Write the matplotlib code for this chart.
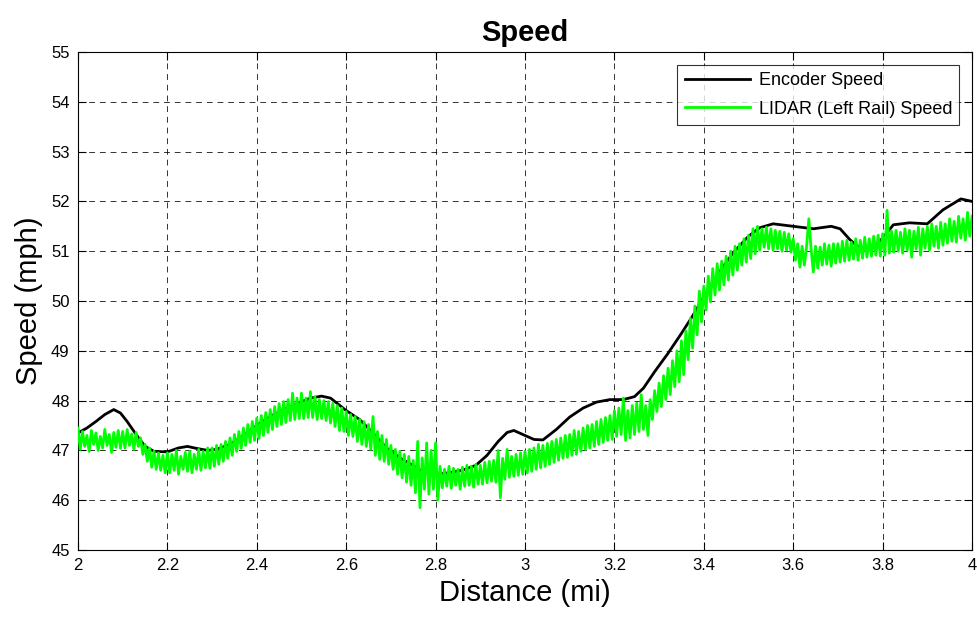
import matplotlib
matplotlib.use("Agg")
import matplotlib.pyplot as plt
import numpy as np

plt.rcParams['font.family'] = ['Liberation Sans', 'DejaVu Sans']

# Encoder speed trace (distance in mi, speed in mph)
encoder_dist = [
    2.000, 2.020, 2.040, 2.060, 2.080, 2.095, 2.110, 2.130, 2.150, 2.170,
    2.200, 2.225, 2.245, 2.265, 2.290, 2.310, 2.340, 2.370, 2.400, 2.430,
    2.460, 2.490, 2.520, 2.545, 2.565, 2.600, 2.630, 2.660, 2.690, 2.720,
    2.745, 2.770, 2.800, 2.830, 2.860, 2.890, 2.915, 2.940, 2.960, 2.975,
    2.995, 3.020, 3.040, 3.070, 3.100, 3.130, 3.160, 3.190, 3.220, 3.245,
    3.265, 3.290, 3.320, 3.350, 3.375, 3.400, 3.430, 3.465, 3.500, 3.525,
    3.555, 3.600, 3.645, 3.685, 3.705, 3.727, 3.750, 3.775, 3.800, 3.824,
    3.860, 3.900, 3.935, 3.975, 4.000,
]
encoder_speed = [
    47.35, 47.45, 47.58, 47.72, 47.82, 47.75, 47.58, 47.32, 47.08, 46.98,
    46.97, 47.05, 47.08, 47.04, 47.00, 47.02, 47.12, 47.30, 47.50, 47.68,
    47.82, 47.94, 48.05, 48.09, 48.05, 47.80, 47.62, 47.35, 47.05, 46.85,
    46.72, 46.58, 46.52, 46.55, 46.60, 46.70, 46.90, 47.18, 47.36, 47.40,
    47.32, 47.22, 47.21, 47.42, 47.67, 47.85, 47.97, 48.02, 48.02, 48.08,
    48.25, 48.58, 48.95, 49.35, 49.70, 50.08, 50.52, 50.96, 51.30, 51.47,
    51.55, 51.50, 51.45, 51.50, 51.45, 51.23, 51.05, 51.05, 51.26, 51.53,
    51.57, 51.55, 51.83, 52.05, 52.00,
]

# LIDAR (left rail) speed, sampled every 0.005 mi from 2.0 to 4.0
lidar_start, lidar_step = 2.0, 0.005
lidar_speed = [
    # 2.0 - 2.1
    47.45, 47.02, 47.38, 47.08, 47.30, 46.98, 47.40, 47.12, 47.35, 47.00,
    47.28, 47.05, 47.42, 47.10, 47.32, 46.96, 47.36, 47.06, 47.40, 47.04,
    # 2.1 - 2.2
    47.38, 47.05, 47.42, 47.10, 47.33, 47.02, 47.36, 47.08, 47.25, 46.92,
    47.12, 46.78, 47.05, 46.66, 46.98, 46.62, 46.95, 46.60, 46.90, 46.55,
    # 2.2 - 2.3
    46.95, 46.55, 46.92, 46.60, 47.00, 46.52, 46.88, 46.62, 46.96, 46.58,
    46.98, 46.55, 46.92, 46.62, 47.02, 46.60, 46.98, 46.65, 47.05, 46.64,
    # 2.3 - 2.4
    47.05, 46.68, 47.10, 46.72, 47.12, 46.78, 47.18, 46.84, 47.25, 46.90,
    47.32, 46.98, 47.38, 47.04, 47.45, 47.10, 47.52, 47.16, 47.58, 47.20,
    # 2.4 - 2.5
    47.65, 47.24, 47.70, 47.30, 47.76, 47.36, 47.82, 47.42, 47.88, 47.48,
    47.94, 47.52, 47.98, 47.56, 48.02, 47.60, 48.15, 47.62, 48.05, 47.64,
    # 2.5 - 2.6
    48.15, 47.64, 48.05, 47.66, 48.18, 47.66, 48.08, 47.62, 48.02, 47.64,
    48.00, 47.60, 47.98, 47.55, 47.95, 47.48, 47.90, 47.40, 47.85, 47.38,
    # 2.6 - 2.7
    47.78, 47.30, 47.72, 47.28, 47.68, 47.18, 47.62, 47.12, 47.58, 47.08,
    47.52, 47.02, 47.68, 46.90, 47.38, 46.82, 47.30, 46.78, 47.22, 46.72,
    # 2.7 - 2.8
    47.10, 46.62, 47.02, 46.52, 46.98, 46.45, 46.92, 46.36, 46.88, 46.30,
    46.80, 46.15, 47.18, 45.85, 46.85, 46.22, 47.15, 46.12, 47.00, 46.22,
    # 2.8 - 2.9
    47.15, 46.00, 46.68, 46.25, 46.62, 46.28, 46.68, 46.24, 46.64, 46.30,
    46.62, 46.22, 46.66, 46.28, 46.70, 46.30, 46.68, 46.26, 46.72, 46.32,
    # 2.9 - 3.0
    46.70, 46.32, 46.76, 46.35, 46.78, 46.38, 46.80, 46.36, 47.00, 46.05,
    46.84, 46.42, 47.02, 46.46, 46.88, 46.48, 46.92, 46.50, 46.95, 46.52,
    # 3.0 - 3.1
    46.98, 46.55, 47.02, 46.58, 47.05, 46.62, 47.12, 46.65, 47.10, 46.68,
    47.14, 46.72, 47.18, 46.76, 47.22, 46.80, 47.25, 46.84, 47.30, 46.86,
    # 3.1 - 3.2
    47.32, 46.90, 47.40, 46.92, 47.38, 46.98, 47.45, 47.02, 47.50, 47.05,
    47.52, 47.08, 47.58, 47.12, 47.62, 47.16, 47.66, 47.20, 47.70, 47.22,
    # 3.2 - 3.3
    47.80, 47.28, 47.85, 47.32, 48.05, 47.20, 47.80, 47.25, 47.90, 47.32,
    47.95, 47.38, 48.12, 47.42, 47.90, 47.30, 48.02, 47.62, 48.20, 47.78,
    # 3.3 - 3.4
    48.35, 47.88, 48.50, 48.02, 48.65, 48.12, 48.80, 48.28, 49.00, 48.38,
    49.20, 48.52, 49.40, 48.82, 49.65, 49.05, 49.90, 49.32, 50.20, 49.58,
    # 3.4 - 3.5
    50.30, 49.82, 50.50, 49.98, 50.65, 50.12, 50.75, 50.22, 50.80, 50.32,
    50.90, 50.42, 51.00, 50.52, 51.10, 50.62, 51.15, 50.72, 51.25, 50.78,
    # 3.5 - 3.6
    51.32, 50.85, 51.45, 50.95, 51.50, 51.02, 51.45, 51.08, 51.48, 51.05,
    51.45, 51.02, 51.42, 51.05, 51.40, 51.00, 51.38, 51.02, 51.35, 50.98,
    # 3.6 - 3.7
    51.25, 50.82, 51.15, 50.68, 51.10, 50.72, 51.10, 51.65, 51.05, 50.58,
    51.10, 50.66, 51.08, 50.72, 51.15, 50.74, 51.12, 50.70, 51.15, 50.76,
    # 3.7 - 3.8
    51.15, 50.78, 51.20, 50.80, 51.22, 50.82, 51.18, 50.84, 51.25, 50.82,
    51.22, 50.86, 51.28, 50.88, 51.25, 50.90, 51.30, 50.92, 51.32, 50.90,
    # 3.8 - 3.9
    51.35, 50.92, 51.82, 50.96, 51.40, 50.98, 51.42, 51.00, 51.38, 50.96,
    51.45, 51.02, 51.42, 50.88, 51.40, 51.04, 51.48, 50.92, 51.45, 51.06,
    # 3.9 - 4.0
    51.50, 51.02, 51.55, 51.10, 51.50, 51.06, 51.58, 51.12, 51.55, 51.16,
    51.65, 51.20, 51.60, 51.18, 51.70, 51.26, 51.65, 51.22, 51.78, 51.30,
    51.70,
]
lidar_dist = lidar_start + lidar_step * np.arange(len(lidar_speed))

x_ticks = [2, 2.2, 2.4, 2.6, 2.8, 3, 3.2, 3.4, 3.6, 3.8, 4]
x_tick_labels = ['2', '2.2', '2.4', '2.6', '2.8', '3', '3.2', '3.4', '3.6', '3.8', '4']
y_ticks = list(range(45, 56))

fig = plt.figure(figsize=(9.78, 6.2), dpi=100)
ax = fig.add_axes([78 / 978, 70 / 620, 894 / 978, 498 / 620])

ax.plot(encoder_dist, encoder_speed, color='black', lw=2.0, label='Encoder Speed', zorder=3)
ax.plot(lidar_dist, lidar_speed, color='#00ff00', lw=2.0, label='LIDAR (Left Rail) Speed', zorder=4)

ax.set_xlim(2, 4)
ax.set_ylim(45, 55)
ax.set_xticks(x_ticks)
ax.set_xticklabels(x_tick_labels)
ax.set_yticks(y_ticks)

ax.grid(True, color='black', linestyle=(0, (6, 5)), linewidth=0.7, alpha=0.8)
ax.tick_params(direction='in', length=6, width=0.8, top=True, right=True,
               labelsize=12, pad=6)
for s in ax.spines.values():
    s.set_linewidth(0.8)

ax.set_title('Speed', fontsize=21, fontweight='bold', pad=8)
ax.set_xlabel('Distance (mi)', fontsize=21, labelpad=4)
ax.set_ylabel('Speed (mph)', fontsize=21, labelpad=6)

leg = ax.legend(loc='upper right', fontsize=13, handlelength=3.6,
                frameon=True, fancybox=False, edgecolor='black',
                borderaxespad=0.7, labelspacing=0.65, borderpad=0.4,
                handletextpad=0.5)
leg.get_frame().set_linewidth(0.8)
leg.set_zorder(10)

fig.savefig('out.png', dpi=100)
